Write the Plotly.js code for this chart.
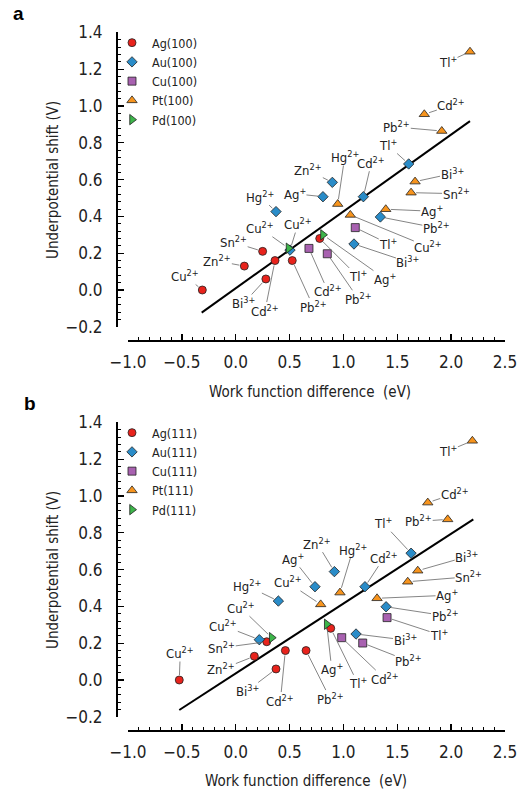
<!DOCTYPE html>
<html>
<head>
<meta charset="utf-8">
<script src="https://cdn.plot.ly/plotly-3.0.1.min.js"></script>
<style>html,body{margin:0;padding:0;background:#fff;}#chart{width:526px;height:792px;}</style>
</head>
<body>
<div id="chart"></div>
<script>
// ---------- Data: panel a (100 surfaces) ----------
const ag100_x = [-0.31, 0.08, 0.25, 0.28, 0.365, 0.525, 0.78];
const ag100_y = [0.00, 0.13, 0.21, 0.06, 0.16, 0.16, 0.28];
const ag100_ion = ['Cu2+', 'Zn2+', 'Sn2+', 'Bi3+', 'Cd2+', 'Pb2+', 'Tl+'];

const au100_x = [0.374, 0.504, 0.81, 0.897, 1.185, 1.606, 1.343, 1.098];
const au100_y = [0.426, 0.217, 0.507, 0.585, 0.507, 0.685, 0.397, 0.25];
const au100_ion = ['Hg2+', 'Cu2+', 'Ag+', 'Zn2+', 'Cd2+', 'Tl+', 'Pb2+', 'Bi3+'];

const cu100_x = [0.68, 0.85, 1.11];
const cu100_y = [0.226, 0.197, 0.339];
const cu100_ion = ['Cd2+', 'Pb2+', 'Tl+'];

const pt100_x = [0.947, 1.064, 1.393, 1.628, 1.665, 1.913, 1.751, 2.175];
const pt100_y = [0.467, 0.408, 0.439, 0.529, 0.589, 0.864, 0.955, 1.295];
const pt100_ion = ['Hg2+', 'Cu2+', 'Ag+', 'Sn2+', 'Bi3+', 'Pb2+', 'Cd2+', 'Tl+'];

const pd100_x = [0.49, 0.81];
const pd100_y = [0.227, 0.30];
const pd100_ion = ['Cu2+', 'Ag+'];

const fitA_x = [-0.316, 2.175];
const fitA_y = [-0.123, 0.918];

// ---------- Data: panel b (111 surfaces) ----------
const ag111_x = [-0.524, 0.173, 0.288, 0.374, 0.461, 0.653, 0.882];
const ag111_y = [0.00, 0.129, 0.208, 0.06, 0.16, 0.16, 0.281];
const ag111_ion = ['Cu2+', 'Zn2+', 'Sn2+', 'Bi3+', 'Cd2+', 'Pb2+', 'Tl+'];

const au111_x = [0.219, 0.396, 0.736, 0.916, 1.20, 1.628, 1.396, 1.117];
const au111_y = [0.219, 0.429, 0.507, 0.589, 0.507, 0.689, 0.398, 0.25];
const au111_ion = ['Cu2+', 'Hg2+', 'Ag+', 'Zn2+', 'Cd2+', 'Tl+', 'Pb2+', 'Bi3+'];

const cu111_x = [0.984, 1.179, 1.405];
const cu111_y = [0.23, 0.201, 0.339];
const cu111_ion = ['Cd2+', 'Pb2+', 'Tl+'];

const pt111_x = [0.789, 0.968, 1.312, 1.597, 1.69, 1.968, 1.783, 2.197];
const pt111_y = [0.411, 0.475, 0.444, 0.534, 0.594, 0.873, 0.964, 1.30];
const pt111_ion = ['Cu2+', 'Hg2+', 'Ag+', 'Sn2+', 'Bi3+', 'Pb2+', 'Cd2+', 'Tl+'];

const pd111_x = [0.334, 0.845];
const pd111_y = [0.23, 0.303];
const pd111_ion = ['Cu2+', 'Ag+'];

const fitB_x = [-0.524, 2.206];
const fitB_y = [-0.163, 0.873];

const xTickVals = [-1.0, -0.5, 0.0, 0.5, 1.0, 1.5, 2.0, 2.5];
const yTickVals = [-0.2, 0.0, 0.2, 0.4, 0.6, 0.8, 1.0, 1.2, 1.4];

// ---------- Label placement (pixel offsets label-centre minus point) ----------
const lblA = {
  ag: [[-17,-14],[-27,-5],[-29,-9],[-22,24],[-10,50],[21,46],[38,38]],
  au: [[-16,-15],[8,-26],[-28,-3],[-24,-12],[8,-34],[-21,-19],[56,11],[54,18]],
  cu: [[19,43],[31,45],[33,16]],
  pt: [[7,-47],[78,32],[46,2],[45,1],[37,-8],[-45,-4],[27,-9],[-22,10]],
  pd: [[-28,-20],[62,44]]
};
const lblB = {
  ag: [[1,-27],[-33,13],[-45,6],[-29,22],[-5,50],[24,48],[27,55]],
  au: [[-36,-14],[-31,-15],[-22,-28],[-17,-28],[19,-29],[-28,-30],[59,9],[49,6]],
  cu: [[43,41],[46,18],[52,17]],
  pt: [[-33,-22],[13,-43],[70,-3],[61,-5],[49,-14],[-29,2],[27,-9],[-24,10]],
  pd: [[-31,-30],[5,45]]
};

const FONT = "'Liberation Sans Narrow', 'DejaVu Sans Condensed', 'Arial Narrow', sans-serif";
const W = 526, H = 792;

function ionHtml(s) {
  const m = s.match(/^([A-Z][a-z]?)(\d?[+])$/);
  return m ? m[1] + '<sup>' + m[2] + '</sup>' : s;
}

const styles = {
  ag: {symbol: 'circle', color: '#e8231c', size: 8},
  au: {symbol: 'diamond', color: '#2a8cc8', size: 8},
  cu: {symbol: 'square', color: '#a861b0', size: 8},
  pt: {symbol: 'triangle-up', color: '#f7941d', size: 9},
  pd: {symbol: 'triangle-right', color: '#3db54a', size: 9}
};

function mkTrace(name, key, xs, ys, xa, ya, legend) {
  const s = styles[key];
  return {
    type: 'scatter', mode: 'markers', name: name, x: xs, y: ys,
    xaxis: xa, yaxis: ya, legend: legend, cliponaxis: false,
    marker: {symbol: s.symbol, color: s.color, size: s.size, line: {color: '#222', width: 0.8}}
  };
}

const traces = [
  {type: 'scatter', mode: 'lines', x: fitA_x, y: fitA_y, xaxis: 'x', yaxis: 'y', showlegend: false, line: {color: '#000', width: 2}},
  {type: 'scatter', mode: 'lines', x: fitB_x, y: fitB_y, xaxis: 'x2', yaxis: 'y2', showlegend: false, line: {color: '#000', width: 2}},
  mkTrace('Ag(100)', 'ag', ag100_x, ag100_y, 'x', 'y', 'legend'),
  mkTrace('Au(100)', 'au', au100_x, au100_y, 'x', 'y', 'legend'),
  mkTrace('Cu(100)', 'cu', cu100_x, cu100_y, 'x', 'y', 'legend'),
  mkTrace('Pt(100)', 'pt', pt100_x, pt100_y, 'x', 'y', 'legend'),
  mkTrace('Pd(100)', 'pd', pd100_x, pd100_y, 'x', 'y', 'legend'),
  mkTrace('Ag(111)', 'ag', ag111_x, ag111_y, 'x2', 'y2', 'legend2'),
  mkTrace('Au(111)', 'au', au111_x, au111_y, 'x2', 'y2', 'legend2'),
  mkTrace('Cu(111)', 'cu', cu111_x, cu111_y, 'x2', 'y2', 'legend2'),
  mkTrace('Pt(111)', 'pt', pt111_x, pt111_y, 'x2', 'y2', 'legend2'),
  mkTrace('Pd(111)', 'pd', pd111_x, pd111_y, 'x2', 'y2', 'legend2')
];

const annotations = [];
function addLabels(xs, ys, ions, offs, xr, yr) {
  for (let i = 0; i < xs.length; i++) {
    annotations.push({
      x: xs[i], y: ys[i], xref: xr, yref: yr,
      text: ionHtml(ions[i]), showarrow: true, arrowhead: 0,
      arrowwidth: 0.8, arrowcolor: '#666', standoff: 5,
      ax: offs[i][0], ay: offs[i][1],
      font: {family: FONT, size: 13, color: '#222'}, borderpad: 0
    });
  }
}
addLabels(ag100_x, ag100_y, ag100_ion, lblA.ag, 'x', 'y');
addLabels(au100_x, au100_y, au100_ion, lblA.au, 'x', 'y');
addLabels(cu100_x, cu100_y, cu100_ion, lblA.cu, 'x', 'y');
addLabels(pt100_x, pt100_y, pt100_ion, lblA.pt, 'x', 'y');
addLabels(pd100_x, pd100_y, pd100_ion, lblA.pd, 'x', 'y');
addLabels(ag111_x, ag111_y, ag111_ion, lblB.ag, 'x2', 'y2');
addLabels(au111_x, au111_y, au111_ion, lblB.au, 'x2', 'y2');
addLabels(cu111_x, cu111_y, cu111_ion, lblB.cu, 'x2', 'y2');
addLabels(pt111_x, pt111_y, pt111_ion, lblB.pt, 'x2', 'y2');
addLabels(pd111_x, pd111_y, pd111_ion, lblB.pd, 'x2', 'y2');

// Axis titles & panel letters
function paperAnn(text, px, py, opts) {
  annotations.push(Object.assign({
    text: text, xref: 'paper', yref: 'paper', x: px / W, y: 1 - py / H,
    showarrow: false, xanchor: 'center', yanchor: 'middle',
    font: {family: FONT, size: 15, color: '#222'}
  }, opts || {}));
}
paperAnn('Underpotential shift (V)', 53, 180, {textangle: -90});
paperAnn('Underpotential shift (V)', 53, 570, {textangle: -90});
paperAnn('Work function difference&nbsp;&nbsp;(eV)', 310, 392);
paperAnn('Work function difference&nbsp;&nbsp;(eV)', 306, 781);
paperAnn('<b>a</b>', 18, 13, {font: {family: "'Liberation Sans', Arial, sans-serif", size: 19, color: '#000'}});
paperAnn('<b>b</b>', 30, 403, {font: {family: "'Liberation Sans', Arial, sans-serif", size: 19, color: '#000'}});

function xAxis(pos) {
  return {
    range: [-1.0, 2.5], domain: [128 / W, 505 / W], anchor: 'free', position: pos,
    showgrid: false, zeroline: false, showline: true, linecolor: '#000', linewidth: 1.5,
    ticks: 'inside', ticklen: 6, tickwidth: 1.3, tickcolor: '#000',
    tickvals: xTickVals, tickformat: '.1f', ticklabelstandoff: 6,
    tickfont: {family: FONT, size: 17, color: '#222'},
    minor: {dtick: 0.1, tick0: -1.0, ticks: 'inside', ticklen: 3, tickwidth: 1, tickcolor: '#000'}
  };
}
function yAxis(domLo, domHi) {
  return {
    range: [-0.2, 1.4], domain: [domLo, domHi], anchor: 'free', position: 116 / W,
    showgrid: false, zeroline: false, showline: true, linecolor: '#000', linewidth: 1.5,
    ticks: 'inside', ticklen: 6, tickwidth: 1.3, tickcolor: '#000',
    tickvals: yTickVals, tickformat: '.1f', ticklabelstandoff: 10,
    tickfont: {family: FONT, size: 17, color: '#222'},
    minor: {dtick: 0.04, tick0: -0.2, ticks: 'inside', ticklen: 3, tickwidth: 1, tickcolor: '#000'}
  };
}

const layout = {
  width: W, height: H, autosize: false,
  margin: {l: 0, r: 0, t: 0, b: 0, pad: 0},
  paper_bgcolor: '#fff', plot_bgcolor: 'rgba(0,0,0,0)',
  font: {family: FONT, color: '#222'},
  showlegend: true,
  xaxis: xAxis(1 - 340 / H),
  yaxis: yAxis(1 - 326.8 / H, 1 - 32.4 / H),
  xaxis2: xAxis(1 - 730 / H),
  yaxis2: yAxis(1 - 716.8 / H, 1 - 422.4 / H),
  legend: {x: 112 / W, y: 1 - 28 / H, xanchor: 'left', yanchor: 'top', bgcolor: 'rgba(0,0,0,0)',
           font: {family: FONT, size: 12.5, color: '#222'}, itemwidth: 30, tracegroupgap: 0},
  legend2: {x: 112 / W, y: 1 - 418 / H, xanchor: 'left', yanchor: 'top', bgcolor: 'rgba(0,0,0,0)',
            font: {family: FONT, size: 12.5, color: '#222'}, itemwidth: 30, tracegroupgap: 0},
  annotations: annotations
};

Plotly.newPlot('chart', traces, layout, {displayModeBar: false, staticPlot: true});
</script>
</body>
</html>
